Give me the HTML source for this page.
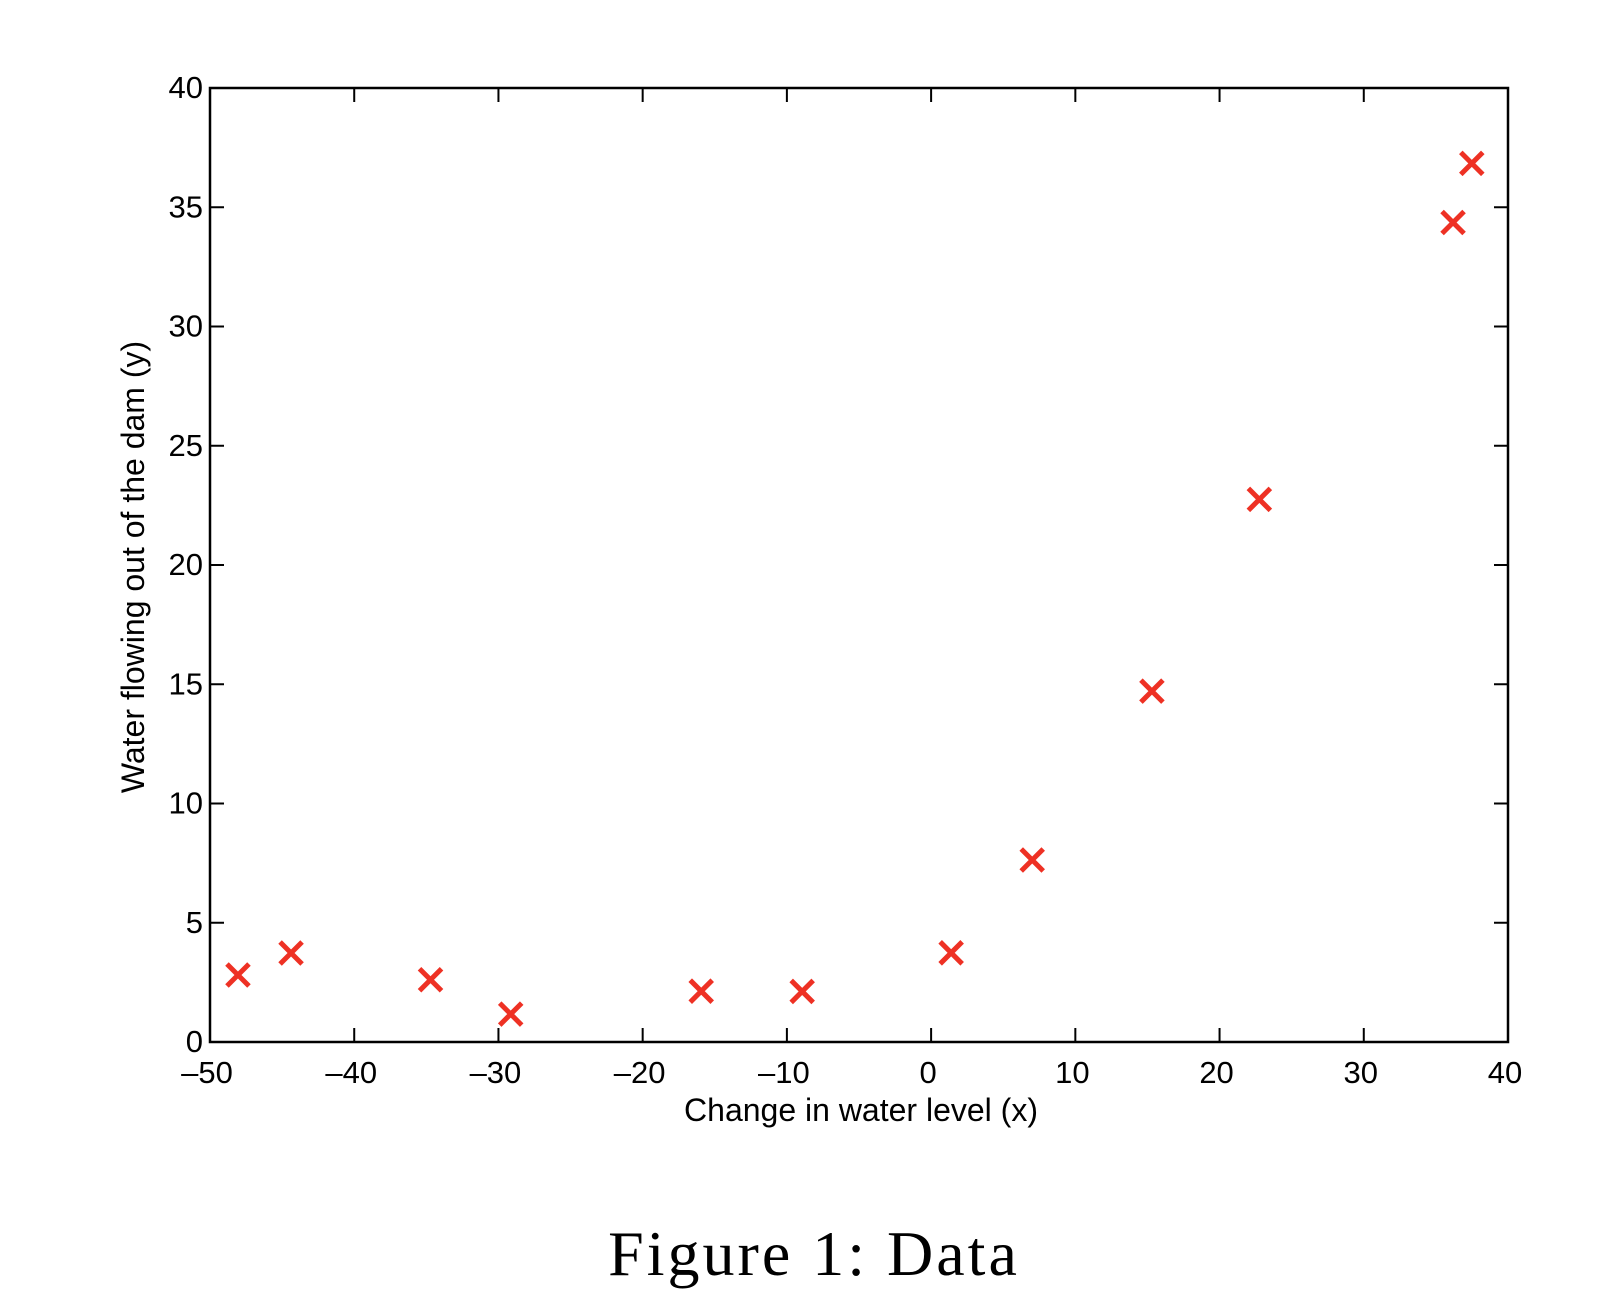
<!DOCTYPE html>
<html><head><meta charset="utf-8"><style>
html,body{margin:0;padding:0;background:#fff;}
svg{display:block;}
text{font-family:"Liberation Sans",Arial,sans-serif;fill:#000;}
</style></head><body>
<svg id="chart" width="1624" height="1312" viewBox="0 0 1624 1312">
<rect x="210" y="88" width="1298" height="954" fill="none" stroke="#000" stroke-width="2.5"/>
<g id="ticks"></g>
<g id="points"></g>
<text x="861" y="1121" font-size="32" text-anchor="middle">Change in water level (x)</text>
<text transform="translate(144,567) rotate(-90)" font-size="32" text-anchor="middle">Water flowing out of the dam (y)</text>
<text x="814" y="1275" font-size="64" letter-spacing="3" text-anchor="middle" style="font-family:'Liberation Serif',serif">Figure 1:  Data</text>
</svg>
<script>
const xVals = [-15.94, -29.15, 36.19, 37.49, -48.06, -8.94, 15.31, -34.71, 1.39, -44.38, 7.01, 22.76];
const yVals = [2.13, 1.17, 34.36, 36.84, 2.81, 2.12, 14.71, 2.61, 3.74, 3.73, 7.63, 22.75];
const xTicks = [-50, -40, -30, -20, -10, 0, 10, 20, 30, 40];
const yTicks = [0, 5, 10, 15, 20, 25, 30, 35, 40];
const L=210,R=1508,T=88,B=1042;
function sx(v){return L+(v+50)/90*(R-L);}
function sy(v){return B-v/40*(B-T);}
const NS='http://www.w3.org/2000/svg';
const tg=document.getElementById('ticks');
function mk(tag,attrs,parent){const e=document.createElementNS(NS,tag);for(const k in attrs)e.setAttribute(k,attrs[k]);parent.appendChild(e);return e;}
xTicks.forEach(t=>{
  const x=sx(t);
  if(t>-50&&t<40){
    const a=mk('line',{x1:x,x2:x,y1:B,y2:B-14,stroke:'#000','stroke-width':2},tg);
    
    
    const b=mk('line',{x1:x,x2:x,y1:T,y2:T+14,stroke:'#000','stroke-width':2},tg);
    
    
  }
  const lb=mk('text',{x:x-3,y:1083,'font-size':31,'text-anchor':'middle'},tg);
  lb.textContent=t<0?'\u2013'+(-t):String(t);
  
  
});
yTicks.forEach(t=>{
  const y=sy(t);
  if(t>0&&t<40){
    const a=mk('line',{x1:L,x2:L+14,y1:y,y2:y,stroke:'#000','stroke-width':2},tg);
    
    
    const b=mk('line',{x1:R,x2:R-14,y1:y,y2:y,stroke:'#000','stroke-width':2},tg);
    
    
  }
  const lb=mk('text',{x:203,y:y+10,'font-size':31,'text-anchor':'end'},tg);
  lb.textContent=String(t);
  
  
});
const pg=document.getElementById('points');
xVals.forEach((v,i)=>{
  const cx=sx(v),cy=sy(yVals[i]),s=11;
  const p=mk('path',{d:`M${cx-s},${cy-s}L${cx+s},${cy+s}M${cx-s},${cy+s}L${cx+s},${cy-s}`,stroke:'#ee3124','stroke-width':5,fill:'none'},pg);
  
  
});
</script>
</body></html>
